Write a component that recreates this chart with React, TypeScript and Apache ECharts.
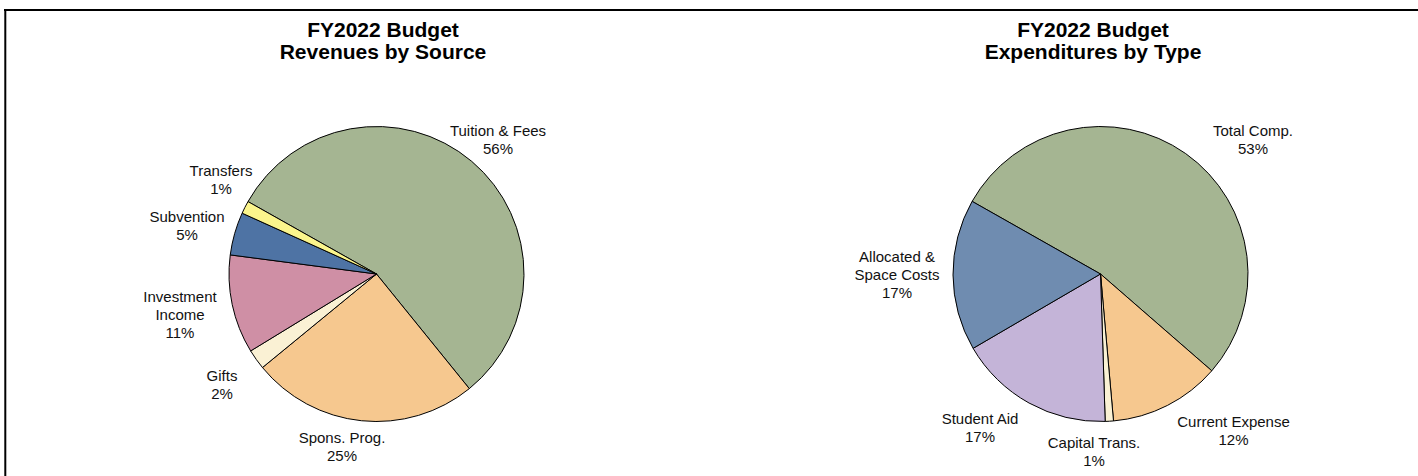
import React, { useEffect, useRef } from "react";
import * as echarts from "echarts";

// ---- Data ----
const revenueCategories = ["Tuition & Fees", "Spons. Prog.", "Gifts", "Investment\nIncome", "Subvention", "Transfers"];
const revenueValues = [56.0, 24.9, 2.2, 10.8, 4.7, 1.4];

const expenseCategories = ["Total Comp.", "Current Expense", "Capital Trans.", "Student Aid", "Allocated &\nSpace Costs"];
const expenseValues = [53.2, 12.2, 0.9, 17.1, 16.6];

const titles = ["FY2022 Budget\nRevenues by Source", "FY2022 Budget\nExpenditures by Type"];

// ---- Styles / layout ----
const revenueColors = ["#A5B592", "#F6C88F", "#FAF1D4", "#CF8FA5", "#4E73A4", "#FBF58C"];
const expenseColors = ["#A5B592", "#F6C88F", "#FAF1D4", "#C4B4D8", "#6F8CB0"];
const revenueLabelPos = [
  [498, 139],
  [342, 446.5],
  [222, 384.5],
  [180, 314.5],
  [187, 225],
  [221, 179],
];
const expenseLabelPos = [
  [1253, 139],
  [1233.5, 430],
  [1094, 451],
  [980, 427.5],
  [897, 274.5],
];
const FONT = '"Liberation Sans", Arial, sans-serif';
const R = 147.5;

export default function App() {
  const ref = useRef<HTMLDivElement>(null);
  useEffect(() => {
    const chart = echarts.init(ref.current!, null, { renderer: "svg" });
    const makeSeries = (
      names: string[],
      values: number[],
      colors: string[],
      center: number[],
      startAngle: number,
      labelPos: number[][]
    ) => ({
      type: "pie",
      center,
      radius: R,
      startAngle,
      clockwise: true,
      avoidLabelOverlap: false,
      silent: true,
      data: names.map((n, i) => ({ name: n, value: values[i], itemStyle: { color: colors[i] } })),
      label: {
        show: true,
        position: "outside",
        formatter: (p: any) => `${p.name}\n${Math.round(p.percent)}%`,
        fontFamily: FONT,
        fontSize: 15,
        lineHeight: 18,
        color: "#111",
        align: "center",
      },
      labelLine: { show: false },
      labelLayout: (p: any) => ({
        x: labelPos[p.dataIndex][0],
        y: labelPos[p.dataIndex][1],
        align: "center",
        verticalAlign: "middle",
      }),
      itemStyle: { borderColor: "#000", borderWidth: 1 },
      emphasis: { disabled: true },
    });

    const titleText = (text: string, x: number) => ({
      type: "text",
      x,
      y: 40,
      style: {
        text,
        font: `bold 21px ${FONT}`,
        lineHeight: 22,
        textAlign: "center",
        textVerticalAlign: "middle",
        fill: "#000",
      },
    });

    chart.setOption({
      animation: false,
      backgroundColor: "#fff",
      series: [
        makeSeries(revenueCategories, revenueValues, revenueColors, [376.5, 274], 150.6, revenueLabelPos),
        makeSeries(expenseCategories, expenseValues, expenseColors, [1100.5, 274], 150.5, expenseLabelPos),
      ],
      graphic: [
        { type: "line", shape: { x1: 4, y1: 10, x2: 1418, y2: 10 }, style: { stroke: "#000", lineWidth: 2 } },
        { type: "line", shape: { x1: 5.3, y1: 9, x2: 5.3, y2: 476 }, style: { stroke: "#000", lineWidth: 2 } },
        titleText(titles[0], 383),
        titleText(titles[1], 1093),
      ],
    });
    return () => chart.dispose();
  }, []);
  return <div ref={ref} style={{ position: "absolute", left: 0, top: 0, width: 1418, height: 476 }} />;
}
